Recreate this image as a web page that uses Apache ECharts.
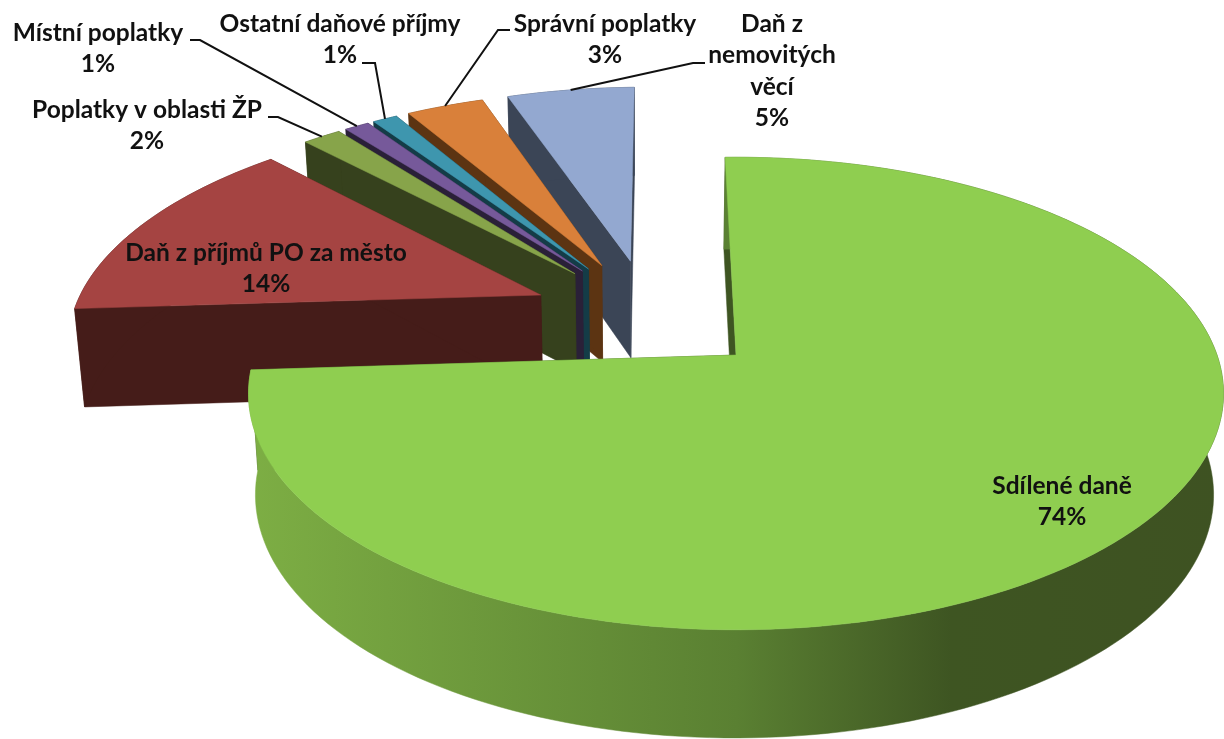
<!DOCTYPE html>
<html><head><meta charset="utf-8">
<style>html,body{margin:0;padding:0;background:#fff}#c{width:1224px;height:739px}</style>
<script src="https://cdn.jsdelivr.net/npm/echarts@6/dist/echarts.min.js"></script>
</head><body><div id="c"></div>
<script>
const categories = ['Sdílené daně','Daň z příjmů PO za město','Poplatky v oblasti ŽP','Místní poplatky','Ostatní daňové příjmy','Správní poplatky','Daň z nemovitých věcí'];
const values = [74.4,13.7,1.55,1,1,3.15,5.2];
const topColors = ['#8FCE50','#A54442','#87A44A','#76599A','#3E96AE','#D9803A','#93A8D0'];
const wallColors = ['#3E5522','#451C19','#36411D','#2A2038','#143C47','#5C3412','#3B4556'];
const labelLines = [['Sdílené daně'],['Daň z příjmů PO za město'],['Poplatky v oblasti ŽP'],['Místní poplatky'],['Ostatní daňové příjmy'],['Správní poplatky'],['Daň z','nemovitých','věcí']];
// layout
const labelPos = [[1062,486],[266,253],[147,110],[98,33],[340,24],[605,24],[772,24]];
const leaders = [null,null,[[268,117],[278,117]],[[190,40],[200,40]],[[362,63],[375,63]],[[510,30],[498,30]],[[705,63],[693,63]]];
const CX=736,CY=355,RX=481,RY=230,P=0.163,EXPL=0.2535,EXPLV=1.04,START=-1.5,VX=650,VK=0.0173;
const total = values.reduce((a,b)=>a+b,0);
const rad = d=>d*Math.PI/180;
const angles=[];let acc=START;
values.forEach(v=>{const a=acc;acc+=v/total*360;angles.push([a,acc]);});
const dir=d=>[Math.sin(rad(d)),Math.cos(rad(d))];
const mid=i=>(angles[i][0]+angles[i][1])/2;
const m0=dir(mid(0));
const offset=i=>{const d=dir(mid(i));return [EXPL*(d[0]-m0[0]),EXPL*EXPLV*(d[1]-m0[1])];};
function proj(u,v){const w=1+P*v;return [CX+RX*u/w,CY-RY*v/w,w];}
function surf(i,r,deg){const o=offset(i),d=dir(deg);return proj(o[0]+r*d[0],o[1]+r*d[1]);}
function bot(p){const depth=100+(1-p[2])*50;return [p[0]+(VX-p[0])*VK,p[1]+depth];}
function xy(p){return [p[0],p[1]];}
function arc(i){const [a,b]=angles[i];const n=Math.max(6,Math.ceil((b-a)/1.5));const out=[];
  for(let k=0;k<=n;k++)out.push(surf(i,1,a+(b-a)*k/n));return out;}
function wall(pts,fill,z2){const poly=pts.map(xy).concat(pts.map(bot).reverse());
  return {type:'polygon',z2,shape:{points:poly},style:{fill,stroke:fill,lineWidth:0.5}};}
const mainGrad=new echarts.graphic.LinearGradient(250,0,1224,0,[
 {offset:0,color:'#7DAE44'},{offset:0.5,color:'#5A8032'},{offset:0.72,color:'#3E5522'},{offset:1,color:'#3E5222'}],true);
const font='bold 24.5px Lato, "Open Sans", sans-serif';
function render(params,api){
  const i=api.value(0);
  const rank=(values.length-i)*10;
  const a=arc(i),apex=surf(i,0,0);
  const ch=[];
  ch.push(wall([a[0],apex],wallColors[i],rank));
  ch.push(wall([apex,a[a.length-1]],wallColors[i],rank));
  ch.push(wall(a,i===0?mainGrad:wallColors[i],rank+1));
  ch.push({type:'polygon',z2:rank+2,shape:{points:[xy(apex)].concat(a.map(xy))},style:{fill:topColors[i],stroke:topColors[i],lineWidth:0.5}});
  const lines=labelLines[i].concat([Math.round(values[i]/total*100)+'%']);
  const lp=labelPos[i];
  lines.forEach((t,k)=>{ch.push({type:'text',z2:500,style:{text:t,x:lp[0],y:lp[1]+k*31.5,align:'center',verticalAlign:'middle',font,fill:'#111'}});});
  if(leaders[i]){const e=surf(i,1,mid(i));
    ch.push({type:'polyline',z2:rank+3,shape:{points:leaders[i].concat([xy(e)])},style:{fill:'none',stroke:'#111',lineWidth:2}});}
  return {type:'group',children:ch};
}
const chart=echarts.init(document.getElementById('c'));
chart.setOption({animation:false,backgroundColor:'#fff',
 series:[{type:'custom',coordinateSystem:'none',renderItem:render,
  data:categories.map((c,i)=>({name:c,value:[i,values[i]]}))}]});
</script></body></html>
